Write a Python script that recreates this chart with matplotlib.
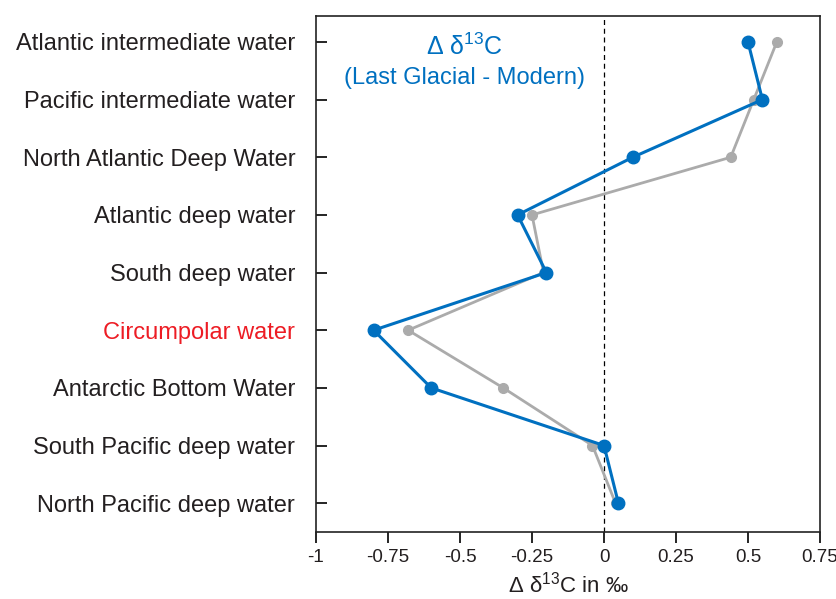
import numpy as np
import matplotlib
matplotlib.use('Agg')
import matplotlib.pyplot as plt

plt.rcParams['font.family'] = ['Liberation Sans', 'DejaVu Sans']
plt.rcParams['mathtext.default'] = 'regular'

####################################

water_masses = ['Atlantic intermediate water', 'Pacific intermediate water',
                'North Atlantic Deep Water', 'Atlantic deep water',
                'South deep water', 'Circumpolar water',
                'Antarctic Bottom Water', 'South Pacific deep water',
                'North Pacific deep water']
d13c_blue = [0.50, 0.55, 0.10, -0.30, -0.20, -0.80, -0.60, 0.00, 0.05]
d13c_gray = [0.60, 0.52, 0.44, -0.25, -0.21, -0.68, -0.35, -0.04, 0.04]
xticks = [-1, -0.75, -0.5, -0.25, 0, 0.25, 0.5, 0.75]
xtick_labels = ['-1', '-0.75', '-0.5', '-0.25', '0', '0.25', '0.5', '0.75']

blue = '#0070C0'
gray = '#ABABAB'
txt = '#231F20'

####################################

fig = plt.figure(figsize=(8.37, 5.99), dpi=100)
ax = fig.add_axes([316/837, 1-532/599, (820-316)/837, (532-16)/599])

ys = np.arange(len(water_masses))

ax.axvline(0, color='black', lw=0.9, ls=(0, (4, 3)), zorder=1)
ax.plot(d13c_gray, ys, color=gray, lw=2, marker='o', ms=7, zorder=2)
ax.plot(d13c_blue, ys, color=blue, lw=2.2, marker='o', ms=9, zorder=3)

ax.set_xlim(-1, 0.75)
ax.set_ylim(8.5, -0.45)
ax.set_xticks(xticks)
ax.set_xticklabels(xtick_labels, fontsize=13.5, color=txt)
ax.set_yticks(ys)
ax.set_yticklabels(water_masses, fontsize=17, color=txt)
ax.get_yticklabels()[5].set_color('#ED1C24')
ax.tick_params(axis='y', direction='in', length=8, width=1.2, pad=15)
ax.tick_params(axis='x', direction='out', length=8, width=1.2, pad=4)
for s in ax.spines.values():
    s.set_linewidth(1.2)
    s.set_color('#222222')

ax.set_xlabel('Δ δ$^{13}$C in ‰', fontsize=16, labelpad=4, color=txt)

ax.text(-0.483, 0.08, 'Δ δ$^{13}$C', color=blue, fontsize=18, ha='center', va='center')
ax.text(-0.483, 0.62, '(Last Glacial - Modern)', color=blue, fontsize=17, ha='center', va='center')

fig.savefig('out.png', dpi=100)
